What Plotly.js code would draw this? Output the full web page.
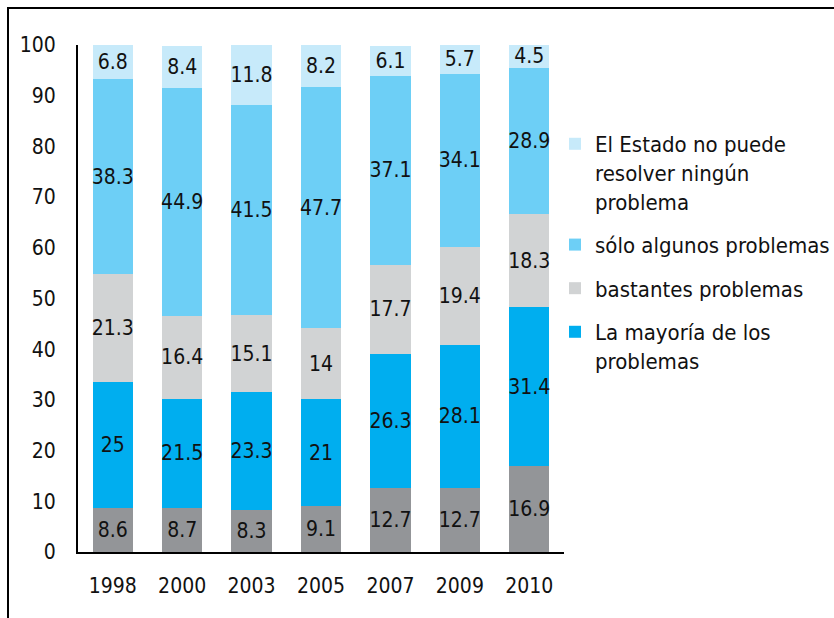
<!DOCTYPE html>
<html>
<head>
<meta charset="utf-8">
<script src="https://cdn.plot.ly/plotly-3.0.1.min.js"></script>
<style>
  html, body { margin: 0; padding: 0; background: #fff; }
  #wrap { position: relative; width: 834px; height: 618px; }
  #chart { position: absolute; left: 0; top: 0; width: 834px; height: 618px; }
  #frame { position: absolute; left: 7px; top: 7px; width: 830px; height: 615px;
           border-top: 2px solid #000; border-left: 2px solid #000; pointer-events: none; }
</style>
</head>
<body>
<div id="wrap">
  <div id="chart"></div>
  <div id="frame"></div>
</div>
<script>
const years = ['1998', '2000', '2003', '2005', '2007', '2009', '2010'];
const yTicks = [0, 10, 20, 30, 40, 50, 60, 70, 80, 90, 100];

const todos      = [8.6, 8.7, 8.3, 9.1, 12.7, 12.7, 16.9];
const mayoria    = [25, 21.5, 23.3, 21, 26.3, 28.1, 31.4];
const bastantes  = [21.3, 16.4, 15.1, 14, 17.7, 19.4, 18.3];
const algunos    = [38.3, 44.9, 41.5, 47.7, 37.1, 34.1, 28.9];
const ninguno    = [6.8, 8.4, 11.8, 8.2, 6.1, 5.7, 4.5];

const seriesNames = [
  '',
  'La mayoría de los<br>problemas',
  'bastantes problemas',
  'sólo algunos problemas',
  'El Estado no puede<br>resolver ningún<br>problema'
];
const seriesValues = [todos, mayoria, bastantes, algunos, ninguno];
const seriesColors = ['#939598', '#00AEEF', '#D1D3D4', '#6DCFF6', '#C7EAFA'];

const FONT = '"DejaVu Sans Condensed", "Liberation Sans Narrow", "Arial Narrow", sans-serif';

const traces = seriesValues.map((vals, i) => ({
  type: 'bar',
  x: years,
  y: vals,
  name: seriesNames[i],
  legendgroup: 'g' + i,
  legendrank: 10 - i,
  showlegend: i !== 0,
  marker: { color: seriesColors[i], line: { width: 0 } },
  text: vals.map(v => String(v)),
  textposition: 'inside',
  insidetextanchor: 'middle',
  textangle: 0,
  constraintext: 'none',
  textfont: { family: FONT, size: 21, color: '#111' },
  hoverinfo: 'skip',
  cliponaxis: false
}));

const layout = {
  width: 834,
  height: 618,
  margin: { l: 78, r: 270, t: 45, b: 66, pad: 0, autoexpand: false },
  paper_bgcolor: '#fff',
  plot_bgcolor: '#fff',
  barmode: 'stack',
  bargap: 0.42,
  font: { family: FONT, size: 21, color: '#111' },
  showlegend: true,
  legend: {
    xref: 'container', yref: 'container',
    x: 0.6655, xanchor: 'left',
    y: 0.801, yanchor: 'top',
    traceorder: 'grouped',
    valign: 'top',
    font: { family: FONT, size: 22, color: '#111' },
    itemwidth: 30,
    tracegroupgap: 12,
    bgcolor: 'rgba(0,0,0,0)'
  },
  xaxis: {
    type: 'category',
    showline: true, linecolor: '#000', linewidth: 2,
    ticks: '', showgrid: false, zeroline: false,
    ticklabelstandoff: 14,
    tickfont: { family: FONT, size: 21, color: '#111' }
  },
  yaxis: {
    range: [0, 100.001],
    tickvals: yTicks,
    ticktext: yTicks.map(String),
    showline: true, linecolor: '#000', linewidth: 2,
    ticks: '', showgrid: false, zeroline: false,
    ticklabelstandoff: 16,
    tickfont: { family: FONT, size: 21, color: '#111' }
  }
};

Plotly.newPlot('chart', traces, layout, { staticPlot: true, displayModeBar: false });
</script>
</body>
</html>
